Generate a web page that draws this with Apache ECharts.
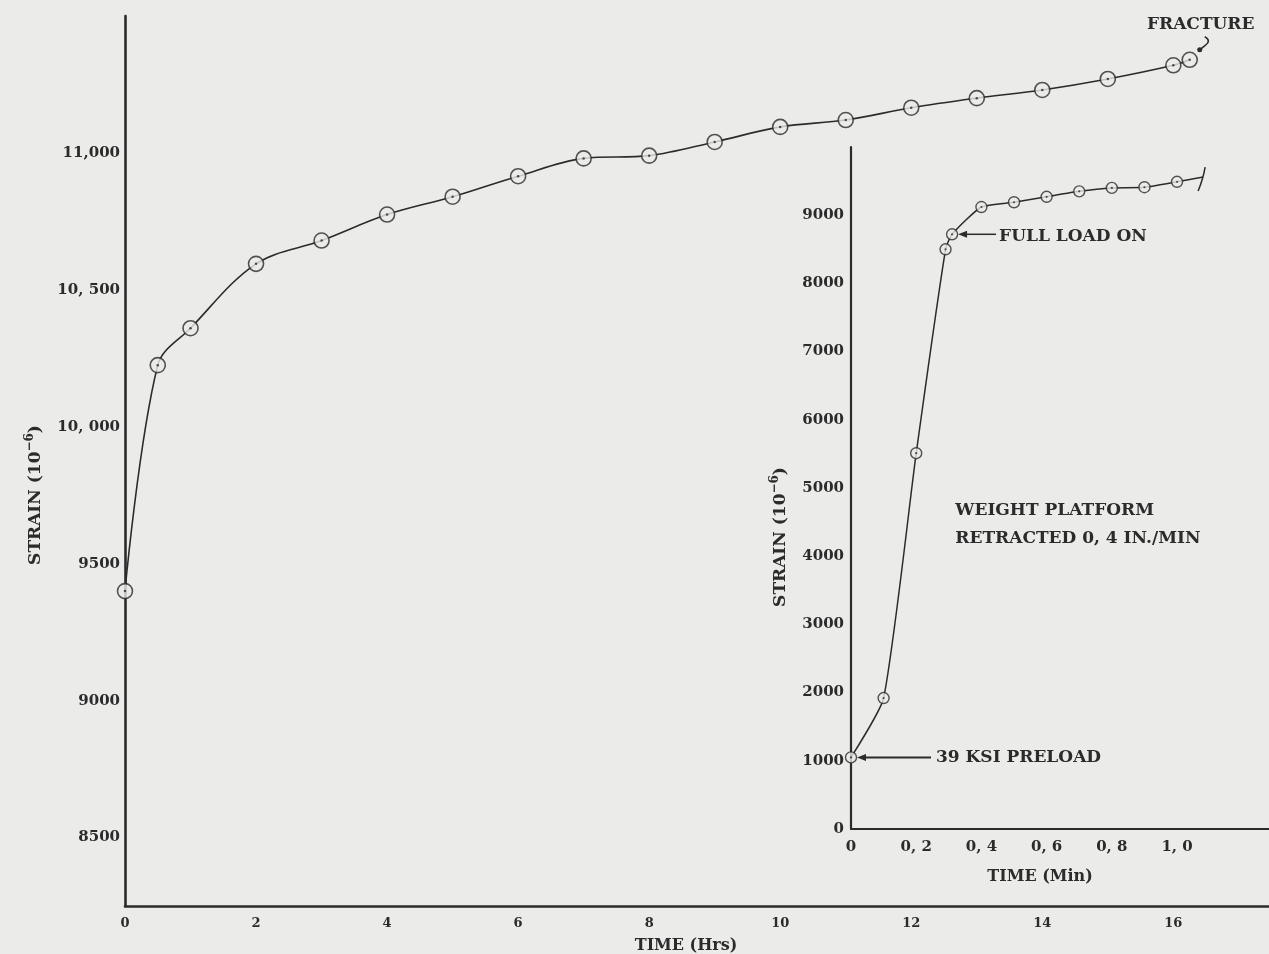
<!DOCTYPE html>
<html><head><meta charset="utf-8">
<script src="https://cdn.jsdelivr.net/npm/echarts@6/dist/echarts.min.js"></script>
<style>html,body{margin:0;padding:0;background:#ebebea}#c{width:1269px;height:954px}</style>
</head><body><div id="c"></div>
<script>
// ---- main chart data (creep test, hours) ----
const mainTime   = [0, 0.5, 1, 2, 3, 4, 5, 6, 7, 8, 9, 10, 11, 12, 13, 14, 15, 16, 16.25];
const mainStrain = [9400, 10225, 10360, 10595, 10680, 10775, 10840, 10915, 10980, 10990, 11040, 11095, 11120, 11165, 11200, 11230, 11270, 11320, 11340];
const mainYTickValues = [8500, 9000, 9500, 10000, 10500, 11000];
const mainYTickLabels = ['8500', '9000', '9500', '10, 000', '10, 500', '11,000'];
const mainXTickValues = [0, 2, 4, 6, 8, 10, 12, 14, 16];
const mainXTickLabels = ['0', '2', '4', '6', '8', '10', '12', '14', '16'];

// ---- inset data (loading, minutes) ----
const insetTime   = [0, 0.1, 0.2, 0.29, 0.31, 0.4, 0.5, 0.6, 0.7, 0.8, 0.9, 1.0, 1.08];
const insetStrain = [1050, 1920, 5510, 8500, 8720, 9120, 9190, 9270, 9350, 9400, 9410, 9490, 9560];
const insetMarked = 12; // number of plotted (circled) readings; last value is the curve end
const insetXTickValues = [0, 0.2, 0.4, 0.6, 0.8, 1.0];
const insetXTickLabels = ['0', '0, 2', '0, 4', '0, 6', '0, 8', '1, 0'];
const insetYTickValues = [0, 1000, 2000, 3000, 4000, 5000, 6000, 7000, 8000, 9000];
const insetYTickLabels = ['0', '1000', '2000', '3000', '4000', '5000', '6000', '7000', '8000', '9000'];

const INK = '#2b2b2b';
const BG = '#ebebea';
const FONT = 'DejaVu Serif';

const mainPairs = mainTime.map((t, i) => [t, mainStrain[i]]);
const insetPairs = insetTime.map((t, i) => [t, insetStrain[i]]);
const insetMarks = insetPairs.slice(0, insetMarked);

function labelFrom(values, labels) {
  return function (v) {
    for (let i = 0; i < values.length; i++) if (Math.abs(values[i] - v) < 1e-6) return labels[i];
    return '';
  };
}

const chart = echarts.init(document.getElementById('c'));
const axisLine = (w) => ({ show: true, onZero: false, lineStyle: { color: INK, width: w } });

chart.setOption({
  backgroundColor: BG,
  animation: false,
  grid: [
    { left: 125, top: 16, right: 0, bottom: 48, outerBoundsMode: 'none', containLabel: false },
    { left: 851, top: 147, right: 0, bottom: 125, outerBoundsMode: 'none', containLabel: false }
  ],
  xAxis: [
    {
      gridIndex: 0, type: 'value', min: 0, max: 17.46, interval: 2,
      axisLine: axisLine(2.6), axisTick: { show: false }, splitLine: { show: false },
      axisLabel: { formatter: labelFrom(mainXTickValues, mainXTickLabels), color: INK, fontFamily: FONT, fontWeight: 'bold', fontSize: 13, margin: 11, showMaxLabel: false },
      name: 'TIME (Hrs)', nameLocation: 'middle', nameGap: 32,
      nameTextStyle: { color: INK, fontFamily: FONT, fontWeight: 'bold', fontSize: 16, padding: [0, 22, 0, 0] }
    },
    {
      gridIndex: 1, type: 'value', min: 0, max: 1.282, interval: 0.2,
      axisLine: axisLine(2.2), axisTick: { show: false }, splitLine: { show: false },
      axisLabel: { formatter: labelFrom(insetXTickValues, insetXTickLabels), color: INK, fontFamily: FONT, fontWeight: 'bold', fontSize: 15, margin: 11, showMaxLabel: false },
      name: 'TIME (Min)', nameLocation: 'middle', nameGap: 40,
      nameTextStyle: { color: INK, fontFamily: FONT, fontWeight: 'bold', fontSize: 16, padding: [0, 40, 0, 0] }
    }
  ],
  yAxis: [
    {
      gridIndex: 0, type: 'value', min: 8250, max: 11500, interval: 250,
      axisLine: axisLine(2.6), axisTick: { show: false }, splitLine: { show: false },
      axisLabel: { formatter: labelFrom(mainYTickValues, mainYTickLabels), color: INK, fontFamily: FONT, fontWeight: 'bold', fontSize: 15, margin: 5 }
    },
    {
      gridIndex: 1, type: 'value', min: 0, max: 10000, interval: 1000,
      axisLine: axisLine(2.2), axisTick: { show: false }, splitLine: { show: false },
      axisLabel: { formatter: labelFrom(insetYTickValues, insetYTickLabels), color: INK, fontFamily: FONT, fontWeight: 'bold', fontSize: 15, margin: 7, showMaxLabel: false }
    }
  ],
  series: [
    { type: 'line', xAxisIndex: 0, yAxisIndex: 0, data: mainPairs, smooth: 0.35, symbol: 'none',
      lineStyle: { color: INK, width: 1.6 }, z: 2 },
    { type: 'scatter', xAxisIndex: 0, yAxisIndex: 0, data: mainPairs, symbol: 'circle', symbolSize: 15,
      itemStyle: { color: BG, borderColor: INK, borderWidth: 1.6 }, z: 3 },
    { type: 'scatter', xAxisIndex: 0, yAxisIndex: 0, data: mainPairs, symbol: 'circle', symbolSize: 2.5,
      itemStyle: { color: INK }, z: 4 },
    { type: 'line', xAxisIndex: 1, yAxisIndex: 1, data: insetPairs, smooth: 0.18, symbol: 'none',
      lineStyle: { color: INK, width: 1.5 }, z: 2 },
    { type: 'scatter', xAxisIndex: 1, yAxisIndex: 1, data: insetMarks, symbol: 'circle', symbolSize: 11,
      itemStyle: { color: BG, borderColor: INK, borderWidth: 1.4 }, z: 3 },
    { type: 'scatter', xAxisIndex: 1, yAxisIndex: 1, data: insetMarks, symbol: 'circle', symbolSize: 2.2,
      itemStyle: { color: INK }, z: 4 }
  ]
});

// ---- annotations anchored to data positions ----
const txt = (size) => ({ fill: INK, fontFamily: FONT, fontWeight: 'bold', fontSize: size });
const pFr = chart.convertToPixel({ gridIndex: 0 }, mainPairs[mainPairs.length - 1]);
const pFull = chart.convertToPixel({ gridIndex: 1 }, insetPairs[4]);
const pPre = chart.convertToPixel({ gridIndex: 1 }, insetPairs[0]);
const pEnd = chart.convertToPixel({ gridIndex: 1 }, insetPairs[insetPairs.length - 1]);
const pWeight = chart.convertToPixel({ gridIndex: 1 }, [0.32, 4470]);

const arrowHead = (x, y) => ({ type: 'polygon', shape: { points: [[x, y], [x + 9, y - 3.5], [x + 9, y + 3.5]] }, style: { fill: INK }, z: 10 });

const yName = (x, y) => ({
  type: 'text', x: x, y: y, rotation: Math.PI / 2, z: 10,
  style: {
    text: '{n|STRAIN (10}{s|−6}{n|)}', align: 'center', verticalAlign: 'middle',
    rich: {
      n: { fontFamily: FONT, fontWeight: 'bold', fontSize: 17, lineHeight: 24, fill: INK },
      s: { fontFamily: FONT, fontWeight: 'bold', fontSize: 12, lineHeight: 13, verticalAlign: 'top', fill: INK }
    }
  }
});

chart.setOption({
  graphic: [
    yName(36, 495),
    yName(781, 537),
    { type: 'text', x: pFr[0] + 11, y: pFr[1] - 35, z: 10, style: Object.assign({ text: 'FRACTURE', align: 'center', verticalAlign: 'middle' }, txt(17)) },
    { type: 'bezierCurve', z: 10, shape: { x1: pFr[0] + 15, y1: pFr[1] - 23, cpx1: pFr[0] + 24, cpy1: pFr[1] - 18, cpx2: pFr[0] + 14, cpy2: pFr[1] - 14, x2: pFr[0] + 9, y2: pFr[1] - 9 },
      style: { stroke: INK, lineWidth: 1.6, fill: null } },
    { type: 'circle', z: 10, shape: { cx: pFr[0] + 10, cy: pFr[1] - 10, r: 2.5 }, style: { fill: INK } },

    { type: 'line', z: 10, shape: { x1: pFull[0] + 13, y1: pFull[1], x2: pFull[0] + 44, y2: pFull[1] }, style: { stroke: INK, lineWidth: 1.5 } },
    arrowHead(pFull[0] + 6, pFull[1]),
    { type: 'text', x: pFull[0] + 47, y: pFull[1] + 2, z: 10, style: Object.assign({ text: 'FULL LOAD ON', align: 'left', verticalAlign: 'middle' }, txt(17)) },

    { type: 'line', z: 10, shape: { x1: pPre[0] + 14, y1: pPre[1], x2: pPre[0] + 80, y2: pPre[1] }, style: { stroke: INK, lineWidth: 2 } },
    arrowHead(pPre[0] + 6, pPre[1]),
    { type: 'text', x: pPre[0] + 85, y: pPre[1], z: 10, style: Object.assign({ text: '39 KSI PRELOAD', align: 'left', verticalAlign: 'middle' }, txt(17)) },

    { type: 'text', x: pWeight[0], y: pWeight[1], z: 10, style: Object.assign({ text: 'WEIGHT PLATFORM\nRETRACTED 0, 4 IN./MIN', align: 'left', verticalAlign: 'middle', lineHeight: 28 }, txt(17)) },

    { type: 'bezierCurve', z: 10, shape: { x1: pEnd[0] - 5, y1: pEnd[1] + 14, cpx1: pEnd[0] - 1, cpy1: pEnd[1] + 4, cpx2: pEnd[0] + 1, cpy2: pEnd[1] - 4, x2: pEnd[0] + 2, y2: pEnd[1] - 10 },
      style: { stroke: INK, lineWidth: 1.5, fill: null } }
  ]
});
</script>
</body></html>
